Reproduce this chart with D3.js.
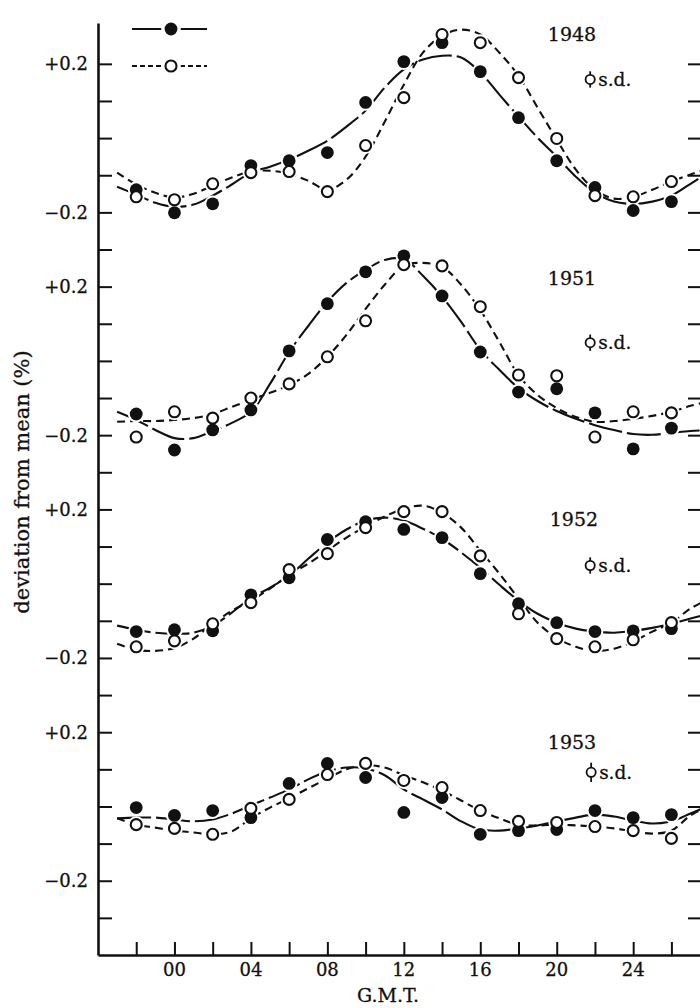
<!DOCTYPE html>
<html>
<head>
<meta charset="utf-8">
<script src="https://cdn.jsdelivr.net/npm/d3@7/dist/d3.min.js"></script>
<style>
  body { margin: 0; background: #fff; }
  svg text { font-family: "DejaVu Serif", "Liberation Serif", serif; fill: #111; stroke: #111; stroke-width: 0.3px; }
</style>
</head>
<body>
<div class="js-board"></div>
<script>
// hours of the plotted means and of the read-off fitted curves
var hours = [-2, 0, 2, 4, 6, 8, 10, 12, 14, 16, 18, 20, 22, 24, 26];
var curveHours = [-3, -2, -1, 0, 1, 2, 3, 4, 5, 6, 7, 8, 9, 10, 11, 12, 13, 14,
  15, 16, 17, 18, 19, 20, 21, 22, 23, 24, 25, 26, 27, 28];
var xTickLabels = ['00', '04', '08', '12', '16', '20', '24'];
var years = ['1948', '1951', '1952', '1953'];
var offsets = [0, -0.6, -1.2, -1.8];
var sdHalf = [0.022, 0.022, 0.022, 0.026];

// 1948
var filled1948 = [-0.139, -0.201, -0.177, -0.074, -0.061, -0.039, 0.096, 0.206, 0.257, 0.179, 0.055, -0.061, -0.133, -0.195, -0.171];
var open1948 = [-0.158, -0.166, -0.123, -0.093, -0.090, -0.144, -0.020, 0.109, 0.279, 0.257, 0.163, -0.001, -0.155, -0.158, -0.117];
var fitFilled1948 = [-0.131, -0.152, -0.174, -0.185, -0.179, -0.155, -0.125, -0.093, -0.077, -0.058, -0.034, -0.007, 0.031, 0.074, 0.136, 0.185,
  0.212, 0.222, 0.217, 0.177, 0.117, 0.058, 0.001, -0.050, -0.104, -0.147, -0.171, -0.177, -0.171, -0.155, -0.123, -0.090];
var fitOpen1948 = [-0.093, -0.125, -0.147, -0.160, -0.150, -0.128, -0.106, -0.090, -0.088, -0.096, -0.115, -0.139, -0.112, -0.050, 0.044, 0.144,
  0.230, 0.276, 0.292, 0.279, 0.230, 0.168, 0.082, -0.004, -0.085, -0.139, -0.163, -0.158, -0.139, -0.117, -0.098, -0.080];

// 1951
var filled1951 = [-0.143, -0.240, -0.186, -0.132, 0.027, 0.154, 0.240, 0.283, 0.175, 0.024, -0.084, -0.075, -0.140, -0.237, -0.181];
var open1951 = [-0.205, -0.137, -0.154, -0.100, -0.062, 0.011, 0.108, 0.259, 0.256, 0.146, -0.038, -0.040, -0.205, -0.137, -0.140];
var fitFilled1951 = [-0.137, -0.159, -0.186, -0.208, -0.208, -0.189, -0.167, -0.137, -0.062, 0.024, 0.094, 0.159, 0.210, 0.245, 0.272, 0.275,
  0.229, 0.173, 0.105, 0.030, -0.024, -0.073, -0.108, -0.135, -0.156, -0.173, -0.186, -0.197, -0.199, -0.194, -0.189, -0.186];
var fitOpen1951 = [-0.164, -0.162, -0.162, -0.159, -0.154, -0.143, -0.124, -0.105, -0.086, -0.065, -0.035, 0.011, 0.070, 0.140, 0.205, 0.256,
  0.264, 0.253, 0.205, 0.137, 0.051, -0.038, -0.092, -0.127, -0.151, -0.164, -0.162, -0.156, -0.148, -0.137, -0.121, -0.108];

// 1952
var filled1952 = [-0.129, -0.124, -0.127, -0.030, 0.016, 0.119, 0.167, 0.146, 0.124, 0.027, -0.054, -0.105, -0.129, -0.127, -0.121];
var open1952 = [-0.170, -0.154, -0.108, -0.051, 0.038, 0.081, 0.151, 0.194, 0.194, 0.075, -0.081, -0.148, -0.170, -0.151, -0.105];
var fitFilled1952 = [-0.113, -0.124, -0.132, -0.135, -0.132, -0.113, -0.078, -0.038, -0.011, 0.022, 0.067, 0.111, 0.146, 0.170, 0.178, 0.170,
  0.148, 0.121, 0.084, 0.043, -0.003, -0.046, -0.081, -0.105, -0.121, -0.129, -0.132, -0.127, -0.119, -0.108, -0.094, -0.081];
var fitOpen1952 = [-0.162, -0.178, -0.181, -0.173, -0.148, -0.108, -0.073, -0.046, -0.013, 0.024, 0.054, 0.089, 0.124, 0.154, 0.181, 0.202,
  0.210, 0.191, 0.151, 0.089, 0.027, -0.040, -0.105, -0.146, -0.170, -0.181, -0.175, -0.156, -0.129, -0.105, -0.067, -0.040];

// 1953
var filled1953 = [-0.003, -0.024, -0.011, -0.030, 0.062, 0.116, 0.078, -0.016, 0.024, -0.075, -0.065, -0.062, -0.011, -0.030, -0.022];
var open1953 = [-0.049, -0.059, -0.075, -0.005, 0.019, 0.086, 0.116, 0.070, 0.051, -0.011, -0.040, -0.043, -0.054, -0.065, -0.086];
var fitFilled1953 = [-0.032, -0.030, -0.030, -0.035, -0.040, -0.035, -0.019, 0.003, 0.024, 0.046, 0.073, 0.094, 0.105, 0.102, 0.084, 0.046,
  0.019, -0.008, -0.040, -0.062, -0.065, -0.059, -0.051, -0.040, -0.030, -0.022, -0.027, -0.038, -0.046, -0.040, -0.019, 0.003];
var fitOpen1953 = [-0.032, -0.049, -0.057, -0.065, -0.070, -0.075, -0.067, -0.032, -0.003, 0.022, 0.049, 0.075, 0.100, 0.111, 0.105, 0.084,
  0.065, 0.043, 0.016, -0.011, -0.032, -0.049, -0.051, -0.049, -0.051, -0.054, -0.059, -0.067, -0.073, -0.065, -0.024, 0.003];

var filled = [filled1948, filled1951, filled1952, filled1953];
var open = [open1948, open1951, open1952, open1953];
var fitFilled = [fitFilled1948, fitFilled1951, fitFilled1952, fitFilled1953];
var fitOpen = [fitOpen1948, fitOpen1951, fitOpen1952, fitOpen1953];

// label placement per panel (hour, value)
var yearPos = [[20.8, 0.279], [20.8, 0.224], [20.9, 0.175], [20.8, 0.172]];
var sdPos = [[21.75, 0.158], [21.75, 0.049], [21.75, 0.049], [21.8, 0.092]];

var W = 700, H = 1008;
var svg = d3.select('.js-board').append('svg')
  .attr('width', W).attr('height', H);

var x = d3.scaleLinear().domain([-4, 27.6]).range([98, 702]);
var y = d3.scaleLinear().domain([-2.2, 0.31]).range([955, 23]);

var ink = '#111';
var r = 6.4;

svg.append('clipPath').attr('id', 'plot')
  .append('rect').attr('x', 99).attr('y', 0).attr('width', 601).attr('height', 954);

// axes: ticks point inward
var yTicks = d3.range(-21, 3).map(function(i) { return i / 10; });

var left = svg.append('g').attr('transform', 'translate(' + x(-4) + ',0)')
  .call(d3.axisRight(y).tickValues(yTicks).tickSize(14).tickSizeOuter(0).tickFormat(''));
var right = svg.append('g').attr('transform', 'translate(' + x(27.6) + ',0)')
  .call(d3.axisLeft(y).tickValues(yTicks).tickSize(14).tickSizeOuter(0).tickFormat(''));
var bottom = svg.append('g').attr('transform', 'translate(0,' + y(-2.2) + ')')
  .call(d3.axisTop(x).tickValues(hours).tickSize(13).tickSizeOuter(0).tickFormat(''));

[left, right, bottom].forEach(function(g) {
  g.select('.domain').attr('stroke', ink).attr('stroke-width', 2.6);
  g.selectAll('.tick line').attr('stroke', ink).attr('stroke-width', 2);
});

// x tick labels
svg.selectAll('.xlab')
  .data(xTickLabels)
  .enter().append('text')
  .attr('class', 'xlab')
  .attr('x', function(d) { return x(+d); })
  .attr('y', 976)
  .attr('text-anchor', 'middle')
  .style('font-size', '18px')
  .text(function(d) { return d; });

svg.append('text')
  .attr('x', 388).attr('y', 1002)
  .attr('text-anchor', 'middle')
  .style('font-size', '19px')
  .text('G.M.T.');

svg.append('text')
  .attr('transform', 'translate(29,482) rotate(-90)')
  .attr('text-anchor', 'middle')
  .style('font-size', '21px')
  .text('deviation from mean (%)');

// y tick labels for each panel
var yLabs = [];
offsets.forEach(function(o) {
  yLabs.push({ v: o + 0.2, t: '+0.2' });
  yLabs.push({ v: o - 0.2, t: '\u22120.2' });
});
svg.selectAll('.ylab')
  .data(yLabs)
  .enter().append('text')
  .attr('class', 'ylab')
  .attr('x', 88)
  .attr('y', function(d) { return y(d.v); })
  .attr('dy', '0.36em')
  .attr('text-anchor', 'end')
  .style('font-size', '18px')
  .text(function(d) { return d.t; });

var line = d3.line()
  .x(function(d) { return x(d[0]); })
  .y(function(d) { return y(d[1]); })
  .curve(d3.curveCatmullRom.alpha(0.5));

var plot = svg.append('g').attr('clip-path', 'url(#plot)');

years.forEach(function(year, k) {
  var o = offsets[k];
  var g = plot.append('g').classed('panel', true);

  g.append('path')
    .datum(curveHours.map(function(h, i) { return [h, fitFilled[k][i] + o]; }))
    .attr('d', line)
    .attr('fill', 'none').attr('stroke', ink).attr('stroke-width', 2.1)
    .attr('stroke-dasharray', '34,5');

  g.append('path')
    .datum(curveHours.map(function(h, i) { return [h, fitOpen[k][i] + o]; }))
    .attr('d', line)
    .attr('fill', 'none').attr('stroke', ink).attr('stroke-width', 2.1)
    .attr('stroke-dasharray', '8,5');

  var pts = hours.map(function(h, i) { return { h: h, v: filled[k][i] + o, f: true }; })
    .concat(hours.map(function(h, i) { return { h: h, v: open[k][i] + o, f: false }; }));

  g.selectAll('.halo')
    .data(pts)
    .enter().append('circle')
    .attr('cx', function(d) { return x(d.h); })
    .attr('cy', function(d) { return y(d.v); })
    .attr('r', r + 2)
    .attr('fill', '#fff');

  g.selectAll('.pt')
    .data(pts)
    .enter().append('circle')
    .attr('cx', function(d) { return x(d.h); })
    .attr('cy', function(d) { return y(d.v); })
    .attr('r', function(d) { return d.f ? r : r - 0.9; })
    .attr('fill', function(d) { return d.f ? ink : '#fff'; })
    .attr('stroke', ink)
    .attr('stroke-width', function(d) { return d.f ? 0 : 2.1; });

  // year label
  svg.append('text')
    .attr('x', x(yearPos[k][0]))
    .attr('y', y(yearPos[k][1] + o))
    .attr('dy', '0.36em')
    .attr('text-anchor', 'middle')
    .style('font-size', '19px')
    .text(year);

  // standard deviation marker
  var sx = x(sdPos[k][0]), sv = sdPos[k][1] + o;
  svg.append('line')
    .attr('x1', sx).attr('x2', sx)
    .attr('y1', y(sv + sdHalf[k])).attr('y2', y(sv - sdHalf[k]))
    .attr('stroke', ink).attr('stroke-width', 1.8);
  svg.append('circle')
    .attr('cx', sx).attr('cy', y(sv)).attr('r', 4.6)
    .attr('fill', '#fff').attr('stroke', ink).attr('stroke-width', 1.8);
  svg.append('text')
    .attr('x', sx + 8)
    .attr('y', y(sv))
    .attr('dy', '0.36em')
    .style('font-size', '18.5px')
    .text('s.d.');
});

// legend
var legend = svg.append('g').classed('legend', true);
[[29, true], [66, false]].forEach(function(row) {
  var ly = row[0], isFilled = row[1];
  legend.append('line')
    .attr('x1', 132).attr('x2', 207).attr('y1', ly).attr('y2', ly)
    .attr('stroke', ink).attr('stroke-width', 2.1)
    .attr('stroke-dasharray', isFilled ? null : '5,3');
  legend.append('circle')
    .attr('cx', 171).attr('cy', ly).attr('r', r + 3.5).attr('fill', '#fff');
  legend.append('circle')
    .attr('cx', 171).attr('cy', ly).attr('r', isFilled ? r : r - 0.9)
    .attr('fill', isFilled ? ink : '#fff')
    .attr('stroke', ink).attr('stroke-width', isFilled ? 0 : 2.1);
});
</script>
</body>
</html>
